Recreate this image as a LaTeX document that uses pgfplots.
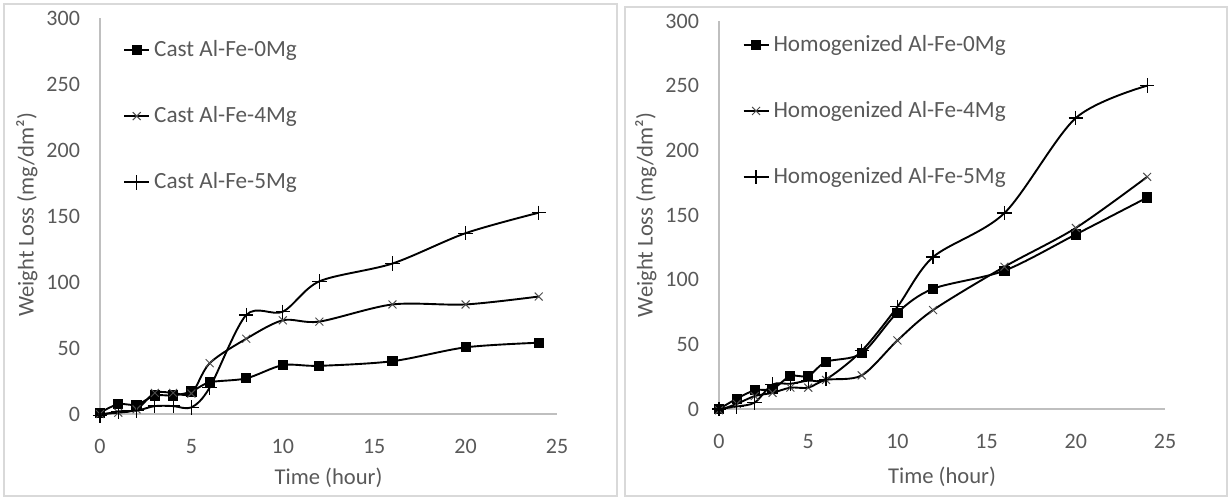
\documentclass[border=0pt]{standalone}
\usepackage{pgfplots}
\pgfplotsset{compat=1.18}
\usepackage{fontspec}
\setmainfont{Carlito}
\definecolor{tickgray}{HTML}{595959}
\definecolor{axgray}{HTML}{BFBFBF}
\definecolor{framegray}{HTML}{D9D9D9}
\pgfplotsset{
  excel/.style={
    scale only axis,
    xmin=0, xmax=25, ymin=0, ymax=300,
    xtick={0,5,...,25}, ytick={0,50,...,300},
    axis lines=left,
    axis line style={axgray, line width=0.6pt, -},
    major tick length=0pt,
    clip=false,
    /pgf/number format/assume math mode=true,
    tick label style={font=\fontsize{11}{13}\selectfont, text=tickgray},
    xticklabel style={yshift=-9pt},
    yticklabel style={xshift=-6.5pt},
    label style={font=\fontsize{11.3}{13}\selectfont, text=tickgray},
    xlabel={Time (hour)},
    ylabel={Weight Loss (mg/dm²)},
    legend cell align=left,
    legend style={draw=none, fill=none, font=\fontsize{11.6}{13}\selectfont, text=tickgray,
      anchor=north west, row sep=19.6pt, inner sep=0pt, /tikz/every even column/.append style={column sep=1pt}},
    legend image code/.code={\draw[mark repeat=2,mark phase=2] plot coordinates {(0cm,0cm)(0.22cm,0cm)(0.44cm,0cm)};},
    every axis plot/.append style={black, line width=0.95pt, smooth, tension=0.5},
  },
  sq/.style={mark=square*, mark size=2.3pt, mark options={solid, fill=black, line width=0.5pt}},
  xm/.style={mark=x, mark size=2.8pt, mark options={solid, draw=black!70, line width=0.5pt}},
  pm/.style={mark=+, mark size=3.6pt, mark options={solid, draw=black, line width=0.6pt}},
}
\begin{document}
\begin{tikzpicture}
\useasboundingbox (0,0) rectangle (614.5pt,249pt);
\draw[framegray, line width=0.8pt] (2pt,1pt) rectangle (308.5pt,247pt);
\draw[framegray, line width=0.8pt] (312.5pt,1pt) rectangle (613.5pt,245.5pt);
\begin{axis}[excel, at={(50pt,42pt)}, anchor=south west, width=228.5pt, height=198pt,
  xlabel style={at={(axis description cs:0.5,-0.162)}, anchor=center},
  ylabel style={at={(axis description cs:-0.160,0.503)}, anchor=center, rotate=0},
  legend style={at={(axis description cs:0.05,0.955)}}]
\addplot[sq] coordinates {(0,1)(1,7.5)(2,7)(3,14)(4,14)(5,17)(6,24)(8,27)(10,37)(12,36.5)(16,40)(20,50.5)(24,54)};
\addlegendentry{Cast Al-Fe-0Mg}
\addplot[xm] coordinates {(0,0)(1,1)(2,3.5)(3,16)(4,16)(5,15.5)(6,38.5)(8,57)(10,71)(12,70)(16,83)(20,83)(24,89)};
\addlegendentry{Cast Al-Fe-4Mg}
\addplot[pm] coordinates {(0,-1)(1,2)(2,2.5)(3,6)(4,6)(5,5)(6,20)(8,75)(10,77.5)(12,100.5)(16,114)(20,137)(24,152.5)};
\addlegendentry{Cast Al-Fe-5Mg}
\end{axis}
\begin{axis}[excel, at={(359.5pt,44.5pt)}, anchor=south west, width=223pt, height=194pt,
  xlabel style={at={(axis description cs:0.5,-0.175)}, anchor=center},
  ylabel style={at={(axis description cs:-0.164,0.5)}, anchor=center},
  legend style={at={(axis description cs:0.052,0.975)}}]
\addplot[sq] coordinates {(0,0)(1,8)(2,14.5)(3,15.5)(4,25.5)(5,25.5)(6,36.5)(8,43)(10,74.5)(12,93)(16,107)(20,135)(24,163.5)};
\addlegendentry{Homogenized Al-Fe-0Mg}
\addplot[xm] coordinates {(0,-1)(1,4)(2,10)(3,12.5)(4,16.5)(5,16.5)(6,22.5)(8,26)(10,53)(12,76.5)(16,110)(20,140)(24,179.5)};
\addlegendentry{Homogenized Al-Fe-4Mg}
\addplot[pm] coordinates {(0,0)(1,2)(2,5)(3,19)(4,19.5)(5,22)(6,23)(8,45)(10,79)(12,117.5)(16,151.5)(20,225)(24,250)};
\addlegendentry{Homogenized Al-Fe-5Mg}
\end{axis}
\end{tikzpicture}
\end{document}
